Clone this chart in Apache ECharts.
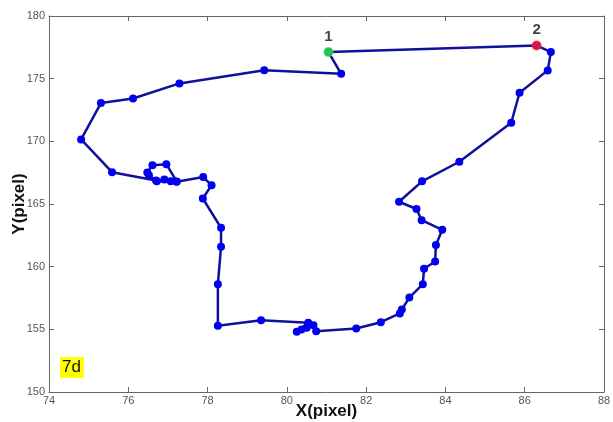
<!DOCTYPE html>
<html>
<head>
<meta charset="utf-8">
<script src="https://cdn.jsdelivr.net/npm/echarts@6/dist/echarts.min.js"></script>
<style>
  html, body { margin: 0; padding: 0; background: #fff; }
  #chart { width: 613px; height: 422px; }
</style>
</head>
<body>
<div id="chart"></div>
<script>
// Tracked position (pixel coordinates) along the path, in order
var pathX = [81.05, 81.37, 79.43, 77.29, 76.12, 75.31, 74.81, 75.59,
  76.70, 76.52, 76.48, 76.61, 76.96, 77.22, 77.07, 76.91, 76.72, 77.22,
  77.89, 78.10, 77.88, 78.34, 78.34, 78.26, 78.26, 79.35,
  80.54, 80.25, 80.37, 80.50, 80.67, 80.74, 81.75, 82.37, 82.85, 82.90,
  83.09, 83.43, 83.46, 83.74, 83.76, 83.92, 83.40, 83.27, 82.83, 83.41,
  84.35, 85.66, 85.87, 86.58, 86.66, 86.30, 81.05];
var pathY = [177.12, 175.39, 175.68, 174.62, 173.42, 173.05, 170.15, 167.54,
  166.88, 167.30, 167.52, 168.10, 168.18, 166.80, 166.82, 166.96, 166.82, 166.78,
  167.15, 166.50, 165.44, 163.10, 161.59, 158.60, 155.28, 155.73,
  155.52, 154.80, 154.99, 155.12, 155.33, 154.85, 155.07, 155.57, 156.27, 156.58,
  157.53, 158.60, 159.83, 160.41, 161.72, 162.94, 163.71, 164.60, 165.18, 166.81,
  168.37, 171.48, 173.88, 175.66, 177.12, 177.65, 177.12];

// Marked start (1) and end (2) positions
var markLabels = ['1', '2'];
var markX = [81.05, 86.30];
var markY = [177.12, 177.65];
var markColors = ['#33ee33', '#ff2222'];

// Axis ranges and tick steps
var xMin = 74, xMax = 88, xStep = 2;
var yMin = 150, yMax = 180, yStep = 5;
var panelTag = '7d';

var pathData = pathX.map(function (x, i) { return [x, pathY[i]]; });
var markData = markX.map(function (x, i) {
  return { value: [x, markY[i]], name: markLabels[i], itemStyle: { color: markColors[i] } };
});

var tickFont = { fontFamily: 'Liberation Sans Narrow, Liberation Sans, sans-serif', fontSize: 11, color: '#555' };
var axisLineStyle = { lineStyle: { color: '#666', width: 1 } };
var tickStyle = { show: true, inside: true, length: 5, lineStyle: { color: '#666' } };
var titleFont = { fontFamily: 'Liberation Sans, Arial, sans-serif', fontSize: 17, fontWeight: 'bold', color: '#111' };

var chart = echarts.init(document.getElementById('chart'));
chart.setOption({
  animation: false,
  backgroundColor: '#fff',
  grid: { left: 49, right: 9, top: 16, bottom: 30, containLabel: false, outerBoundsMode: 'none' },
  xAxis: [{
    type: 'value', min: xMin, max: xMax, interval: xStep,
    position: 'bottom',
    axisLine: axisLineStyle, axisTick: tickStyle, splitLine: { show: false },
    axisLabel: Object.assign({ margin: 3 }, tickFont),
    name: 'X(pixel)', nameLocation: 'middle', nameGap: 11, nameMoveOverlap: false,
    nameTextStyle: titleFont
  }, {
    type: 'value', min: xMin, max: xMax, interval: xStep,
    position: 'top',
    axisLine: axisLineStyle, axisTick: tickStyle, splitLine: { show: false },
    axisLabel: { show: false }
  }],
  yAxis: [{
    type: 'value', min: yMin, max: yMax, interval: yStep,
    position: 'left',
    axisLine: axisLineStyle, axisTick: tickStyle, splitLine: { show: false },
    axisLabel: Object.assign({ margin: 4 }, tickFont),
    name: 'Y(pixel)', nameLocation: 'middle', nameGap: 21, nameRotate: 90, nameMoveOverlap: false,
    nameTextStyle: titleFont
  }, {
    type: 'value', min: yMin, max: yMax, interval: yStep,
    position: 'right',
    axisLine: axisLineStyle, axisTick: tickStyle, splitLine: { show: false },
    axisLabel: { show: false }
  }],
  graphic: [{
    type: 'text', left: 60, top: 357,
    style: {
      text: panelTag, fill: '#111', backgroundColor: '#ffff00',
      padding: [2, 3, 2, 2],
      font: '17px Liberation Sans, Arial, sans-serif'
    }
  }],
  series: [{
    type: 'line',
    data: pathData,
    symbol: 'circle', symbolSize: 8,
    lineStyle: { color: '#10109a', width: 2.5 },
    itemStyle: { color: '#0000ee' },
    z: 2
  }, {
    type: 'scatter',
    data: markData,
    symbolSize: 10,
    label: {
      show: true, position: 'top', distance: 3,
      formatter: function (p) { return p.name; },
      fontFamily: 'Liberation Sans, Arial, sans-serif', fontSize: 15, fontWeight: 'bold', color: '#111'
    },
    z: 3
  }]
});
</script>
</body>
</html>
